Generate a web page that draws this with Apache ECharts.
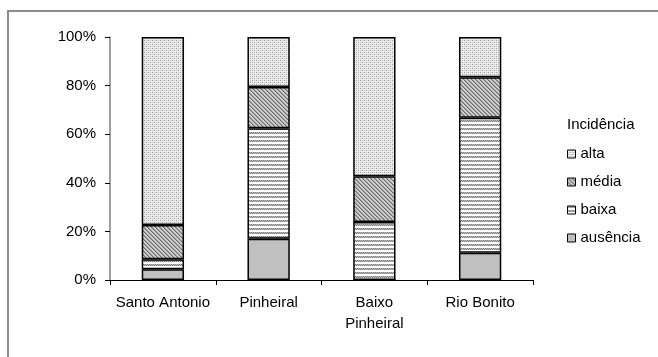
<!DOCTYPE html>
<html>
<head>
<meta charset="utf-8">
<script src="https://cdn.jsdelivr.net/npm/echarts@6/dist/echarts.min.js"></script>
<style>
  html, body { margin: 0; padding: 0; background: #fff; }
  #chart { width: 658px; height: 357px; }
</style>
</head>
<body>
<div id="chart"></div>
<script>
// Locations along the x axis
const categories = ['Santo Antonio', 'Pinheiral', 'Baixo\nPinheiral', 'Rio Bonito'];

// Share of each incidence class per location (%)
const ausencia = [4.4, 17.0, 0.0, 11.2];
const baixa    = [4.1, 45.4, 23.9, 55.6];
const media    = [14.1, 17.0, 18.8, 16.6];
const alta     = [77.4, 20.6, 57.3, 16.6];

const yTicks = [0, 20, 40, 60, 80, 100];
const legendTitle = 'Incidência';

const FONT = 'Liberation Sans, Arial, sans-serif';

// Small tiled fills for the hatched segments
function tile(w, h, draw) {
  const c = document.createElement('canvas');
  c.width = w; c.height = h;
  const ctx = c.getContext('2d');
  draw(ctx);
  return { image: c, repeat: 'repeat' };
}

const dotFill = tile(4, 4, ctx => {
  ctx.fillStyle = '#ececec'; ctx.fillRect(0, 0, 4, 4);
  ctx.fillStyle = '#9a9a9a';
  ctx.fillRect(0, 0, 1, 1); ctx.fillRect(2, 2, 1, 1);
  ctx.fillStyle = '#c4c4c4';
  ctx.fillRect(2, 0, 1, 1); ctx.fillRect(0, 2, 1, 1);
});

const diagFill = tile(4, 4, ctx => {
  ctx.fillStyle = '#d0d0d0'; ctx.fillRect(0, 0, 4, 4);
  ctx.fillStyle = '#6e6e6e';
  for (let i = 0; i < 4; i++) ctx.fillRect(i, i, 1, 1);
  ctx.fillStyle = '#9c9c9c';
  for (let i = 0; i < 4; i++) ctx.fillRect((i + 1) % 4, i, 1, 1);
});

// rows of short slanted strokes on white
const waveFill = tile(4, 4, ctx => {
  ctx.fillStyle = '#ffffff'; ctx.fillRect(0, 0, 4, 4);
  ctx.fillStyle = '#7a7a7a';
  ctx.fillRect(1, 0, 1, 1); ctx.fillRect(3, 0, 1, 1);
  ctx.fillRect(0, 1, 1, 1); ctx.fillRect(2, 1, 1, 1);
  ctx.fillStyle = '#c0c0c0';
  ctx.fillRect(0, 0, 1, 1); ctx.fillRect(2, 0, 1, 1);
  ctx.fillRect(1, 1, 1, 1); ctx.fillRect(3, 1, 1, 1);
});

const solidFill = '#c0c0c0';

function barSeries(name, data, fill) {
  return {
    name, type: 'bar', stack: 'total', data,
    barWidth: '40%',
    itemStyle: { color: fill, borderColor: '#000', borderWidth: 1.5 },
    emphasis: { disabled: true }
  };
}

const chart = echarts.init(document.getElementById('chart'), null, { renderer: 'canvas' });
chart.setOption({
  animation: false,
  backgroundColor: '#fff',
  textStyle: { fontFamily: FONT },
  grid: { left: 110, right: 125, top: 37, bottom: 77 },
  graphic: [
    {
      type: 'rect', shape: { x: 8, y: 11, width: 680, height: 380 },
      style: { fill: 'none', stroke: '#8c8c8c', lineWidth: 2 }, silent: true
    },
    {
      type: 'text', left: 567, top: 117,
      style: { text: legendTitle, fontSize: 15, fill: '#000', fontFamily: FONT }
    }
  ],
  legend: {
    orient: 'vertical', left: 567, top: 145, padding: 0,
    data: ['alta', 'média', 'baixa', 'ausência'],
    icon: 'rect', itemWidth: 8, itemHeight: 8, itemGap: 10,
    textStyle: { fontSize: 15, color: '#000', lineHeight: 18, fontFamily: FONT },
    itemStyle: { borderColor: '#000', borderWidth: 1 },
    selectedMode: false
  },
  xAxis: {
    type: 'category', data: categories,
    axisLine: { lineStyle: { color: '#000', width: 1 } },
    axisTick: { show: true, alignWithLabel: false, length: 5, lineStyle: { color: '#000' } },
    axisLabel: { fontSize: 15, color: '#000', margin: 12, lineHeight: 21, interval: 0 }
  },
  yAxis: {
    type: 'value', min: 0, max: 100, interval: 20,
    axisLine: { show: true, lineStyle: { color: '#808080', width: 1.5 } },
    axisTick: { show: true, length: 5, lineStyle: { color: '#000' } },
    splitLine: { show: false },
    axisLabel: {
      fontSize: 15, color: '#000', margin: 14,
      formatter: v => yTicks.includes(v) ? v + '%' : ''
    }
  },
  series: [
    barSeries('ausência', ausencia, solidFill),
    barSeries('baixa', baixa, waveFill),
    barSeries('média', media, diagFill),
    barSeries('alta', alta, dotFill)
  ]
});
</script>
</body>
</html>
